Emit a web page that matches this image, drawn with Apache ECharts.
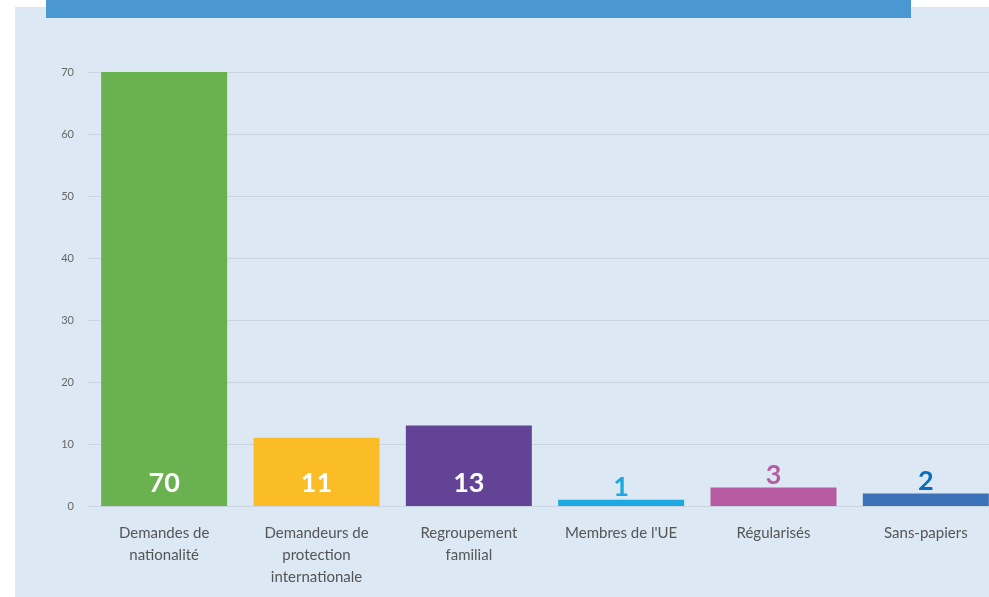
<!DOCTYPE html>
<html lang="fr">
<head>
<meta charset="utf-8">
<title>Demandes</title>
<script src="https://cdn.jsdelivr.net/npm/echarts@6/dist/echarts.min.js"></script>
<style>
  html, body { margin: 0; padding: 0; background: #ffffff; overflow: hidden; }
  #chart { width: 1003px; height: 597px; }
</style>
</head>
<body>
<div id="chart"></div>
<script>
// données
var categories = ['Demandes de\nnationalité', 'Demandeurs de\nprotection\ninternationale',
                  'Regroupement\nfamilial', "Membres de l'UE", 'Régularisés', 'Sans-papiers'];
var values = [70, 11, 13, 1, 3, 2];
var barColors = ['#6ab150', '#fbbd26', '#634395', '#1ba9e1', '#b65ba1', '#3b72b8'];
var labelColors = ['#ffffff', '#ffffff', '#ffffff', '#1ba9e1', '#b65ba1', '#0b6cb8'];
var labelInside = [true, true, true, false, false, false];
var yTicks = [0, 10, 20, 30, 40, 50, 60, 70];

var chart = echarts.init(document.getElementById('chart'));

var data = values.map(function (v, i) {
    return {
        value: v,
        itemStyle: { color: barColors[i] },
        label: {
            position: labelInside[i] ? 'insideBottom' : 'top',
            distance: labelInside[i] ? 9 : -1,
            color: labelColors[i]
        }
    };
});

chart.setOption({
    backgroundColor: '#ffffff',
    animation: false,
    graphic: [
        { type: 'rect', z: -10, shape: { x: 15, y: 7, width: 974, height: 600 }, style: { fill: '#dce9f5' } },
        { type: 'rect', z: -5, shape: { x: 46, y: 0, width: 865, height: 18 }, style: { fill: '#4a97d3' } }
    ],
    grid: { left: 88, width: 914, top: 72, bottom: 91, containLabel: false },
    xAxis: {
        type: 'category',
        data: categories,
        axisLine: { show: true, lineStyle: { color: '#c9d4de', width: 1 } },
        axisTick: { show: false },
        axisLabel: {
            interval: 0,
            margin: 16,
            color: '#555555',
            fontFamily: 'Lato',
            fontSize: 15,
            lineHeight: 22
        }
    },
    yAxis: {
        type: 'value',
        min: yTicks[0],
        max: yTicks[yTicks.length - 1],
        interval: 10,
        axisLine: { show: false },
        axisTick: { show: false },
        splitLine: { lineStyle: { color: '#c9d4de', width: 1 } },
        axisLabel: { color: '#666666', fontFamily: 'Lato', fontSize: 11, margin: 14 }
    },
    series: [{
        type: 'bar',
        barWidth: 126,
        data: data,
        label: {
            show: true,
            fontFamily: 'Lato',
            fontWeight: 'bold',
            fontSize: 27
        }
    }]
});
</script>
</body>
</html>
